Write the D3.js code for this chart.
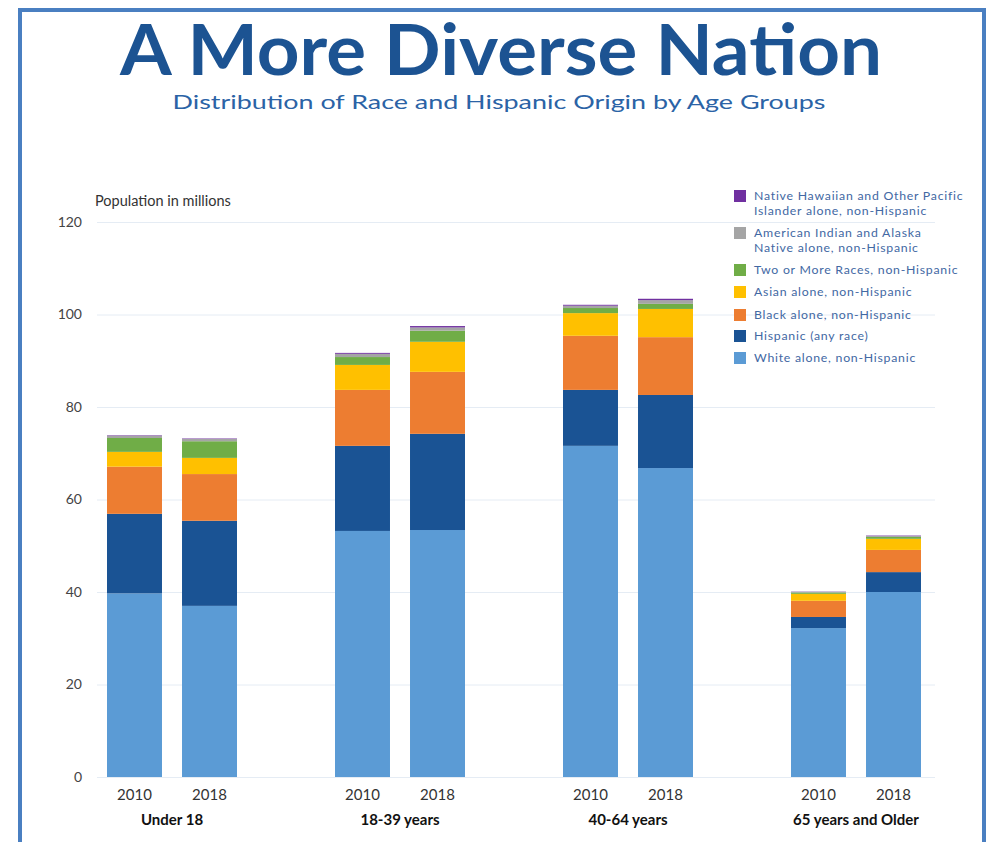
<!DOCTYPE html>
<html>
<head>
<meta charset="utf-8">
<script src="https://cdn.jsdelivr.net/npm/d3@7"></script>
<style>
  body { margin: 0; background: #fff; }
  svg { display: block; }
</style>
</head>
<body>
<svg id="chart" width="988" height="842"></svg>
<script>
// ---------- DATA ----------
const groups = ["Under 18", "18-39 years", "40-64 years", "65 years and Older"];
const years = ["2010", "2018"];
// order per bar: Under18-2010, Under18-2018, 18-39-2010, 18-39-2018, 40-64-2010, 40-64-2018, 65+-2010, 65+-2018
const white    = [39.7, 37.0, 53.2, 53.4, 71.6, 66.8, 32.2, 40.0];
const hispanic = [17.2, 18.4, 18.4, 20.8, 12.1, 15.8, 2.4, 4.3];
const black    = [10.2, 10.1, 12.1, 13.4, 11.7, 12.5, 3.5, 4.8];
const asian    = [3.2, 3.5, 5.4, 6.5, 4.9, 6.1, 1.5, 2.4];
const twoMore  = [3.0, 3.6, 1.7, 2.4, 1.1, 1.1, 0.3, 0.4];
const aian     = [0.5, 0.5, 0.7, 0.7, 0.5, 0.8, 0.15, 0.2];
const nhpi     = [0.1, 0.1, 0.2, 0.3, 0.2, 0.3, 0.05, 0.1];
const seriesNames = [
  "White alone, non-Hispanic",
  "Hispanic (any race)",
  "Black alone, non-Hispanic",
  "Asian alone, non-Hispanic",
  "Two or More Races, non-Hispanic",
  "American Indian and Alaska Native alone, non-Hispanic",
  "Native Hawaiian and Other Pacific Islander alone, non-Hispanic"
];
const legendLines = [
  ["White alone, non-Hispanic"],
  ["Hispanic (any race)"],
  ["Black alone, non-Hispanic"],
  ["Asian alone, non-Hispanic"],
  ["Two or More Races, non-Hispanic"],
  ["American Indian and Alaska", "Native alone, non-Hispanic"],
  ["Native Hawaiian and Other Pacific", "Islander alone, non-Hispanic"]
];
const colors = ["#5b9bd5", "#1a5394", "#ed7d31", "#ffc000", "#70ad47", "#a5a5a5", "#7030a0"];
const yTicks = [0, 20, 40, 60, 80, 100, 120];

// ---------- BUILD TABLE ----------
const seriesValues = [white, hispanic, black, asian, twoMore, aian, nhpi];
const rows = [];
groups.forEach((g, gi) => {
  years.forEach((yr, yi) => {
    const idx = gi * 2 + yi;
    const row = { group: g, year: yr };
    seriesNames.forEach((s, si) => row[s] = seriesValues[si][idx]);
    rows.push(row);
  });
});
const stacked = d3.stack().keys(seriesNames)(rows);

// ---------- SVG ----------
const svg = d3.select("#chart");

// frame
svg.append("rect")
  .attr("x", 20).attr("y", 10).attr("width", 964).attr("height", 900)
  .attr("fill", "none").attr("stroke", "#4a7fc1").attr("stroke-width", 4);

// title
svg.append("text")
  .attr("x", 501).attr("y", 75)
  .attr("text-anchor", "middle")
  .attr("font-family", "Lato, sans-serif").attr("font-weight", 700)
  .attr("font-size", 70).attr("fill", "#1c5392")
  .attr("textLength", 762).attr("lengthAdjust", "spacingAndGlyphs")
  .text("A More Diverse Nation");

svg.append("text")
  .attr("x", 499).attr("y", 109)
  .attr("text-anchor", "middle")
  .attr("font-family", "Lato, sans-serif").attr("font-weight", 400)
  .attr("font-size", 20).attr("fill", "#2b63a6")
  .attr("textLength", 653).attr("lengthAdjust", "spacingAndGlyphs")
  .text("Distribution of Race and Hispanic Origin by Age Groups");

// scales
const y = d3.scaleLinear().domain([0, 120]).range([777, 222]);
const x0 = d3.scaleBand().domain(groups).range([58, 970]).padding(0);
const x1 = d3.scaleBand().domain(years).range([0, 130]).paddingInner(0.267).paddingOuter(0);
const groupOffset = (x0.bandwidth() - 130) / 2;
const barX = d => x0(d.data.group) + groupOffset + x1(d.data.year);

// gridlines + y labels
const yAxis = svg.append("g")
  .attr("transform", "translate(97,0)")
  .call(d3.axisLeft(y).tickValues(yTicks).tickSizeInner(-838).tickSizeOuter(0).tickPadding(15));
yAxis.select(".domain").remove();
yAxis.selectAll(".tick line").attr("stroke", "#e5ecf4").attr("stroke-width", 1);
yAxis.selectAll(".tick text")
  .attr("font-family", "Lato, sans-serif").attr("font-size", 14).attr("fill", "#444");

svg.append("text")
  .attr("x", 95).attr("y", 206)
  .attr("font-family", "Lato, sans-serif").attr("font-size", 14.5).attr("fill", "#333")
  .text("Population in millions");

// bars
svg.append("g").selectAll("g")
  .data(stacked).join("g")
  .attr("fill", (d, i) => colors[i])
  .selectAll("rect")
  .data(d => d).join("rect")
  .attr("x", barX)
  .attr("width", x1.bandwidth())
  .attr("y", d => y(d[1]))
  .attr("height", d => y(d[0]) - y(d[1]));

// year labels
groups.forEach(g => {
  const ax = svg.append("g")
    .attr("transform", `translate(${x0(g) + groupOffset},777)`)
    .call(d3.axisBottom(x1).tickSize(0).tickPadding(12));
  ax.select(".domain").remove();
  ax.selectAll("text").attr("font-family", "Lato, sans-serif").attr("font-size", 15).attr("fill", "#333");
});

// group labels
const gx = svg.append("g")
  .attr("transform", "translate(0,777)")
  .call(d3.axisBottom(x0).tickSize(0).tickPadding(37));
gx.select(".domain").remove();
gx.selectAll("text").attr("font-family", "Lato, sans-serif").attr("font-weight", 700)
  .attr("font-size", 15).attr("fill", "#111");

// legend (top to bottom: reverse stack order)
const legendY = [196, 233, 270, 292, 315, 336, 358];
const legendOrder = d3.range(seriesNames.length).reverse();
const lg = svg.append("g");
legendOrder.forEach((si, k) => {
  const yy = legendY[k];
  lg.append("rect").attr("x", 734).attr("y", yy - 6).attr("width", 12).attr("height", 12)
    .attr("fill", colors[si]);
  const t = lg.append("text").attr("x", 754).attr("y", yy + 4)
    .attr("font-family", "Lato, sans-serif").attr("font-size", 12.3)
    .attr("letter-spacing", 0.75).attr("fill", "#4268a3");
  legendLines[si].forEach((line, li) => {
    t.append("tspan").attr("x", 754).attr("dy", li === 0 ? 0 : 15).text(line);
  });
});
</script>
</body>
</html>
